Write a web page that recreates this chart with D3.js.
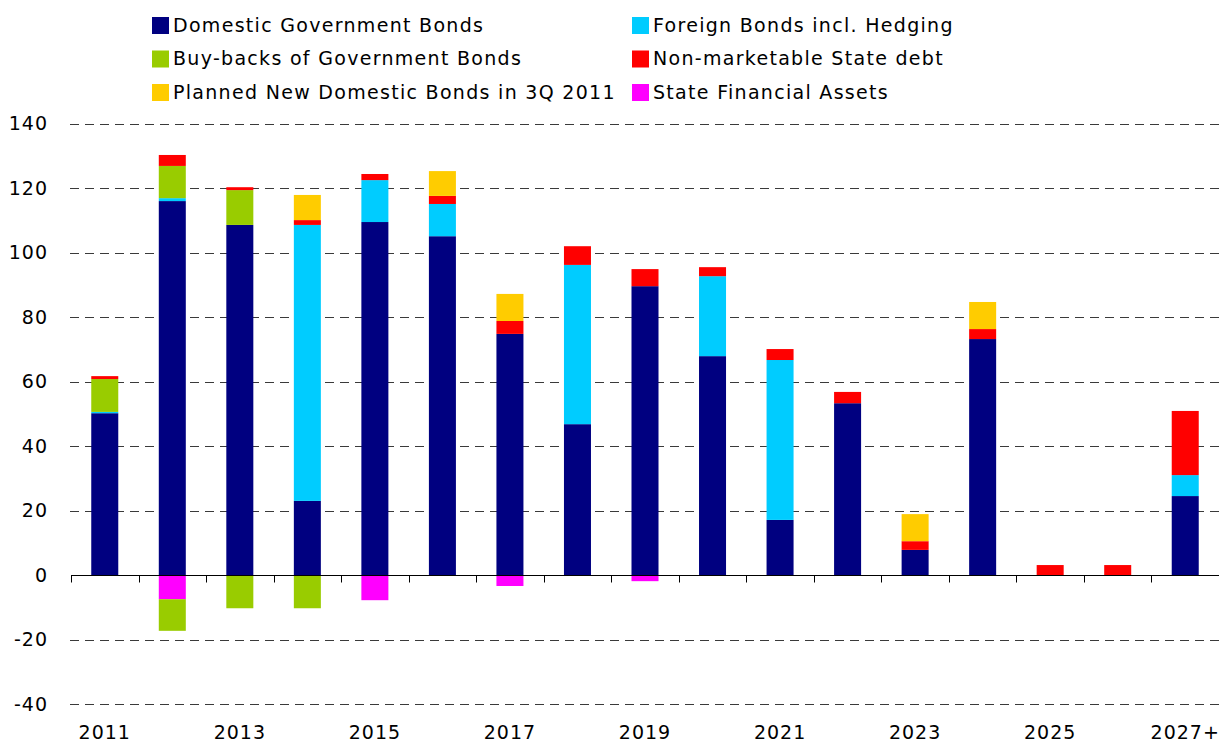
<!DOCTYPE html>
<html>
<head>
<meta charset="utf-8">
<script src="https://cdn.jsdelivr.net/npm/d3@7"></script>
<style>
  body { margin: 0; background: #fff; }
  text { font-family: "DejaVu Sans", Verdana, sans-serif; }
</style>
</head>
<body>
<div id="chart"></div>
<script>
var years = ["2011", "2012", "2013", "2014", "2015", "2016", "2017", "2018", "2019",
  "2020", "2021", "2022", "2023", "2024", "2025", "2026", "2027+"];
var domestic = [50.2, 116.0, 108.6, 23.0, 109.5, 105.1, 74.8, 46.8, 89.6, 67.9, 17.1, 53.3, 7.8, 73.2, 0, 0, 24.5];
var foreign = [0.4, 0.9, 0, 85.6, 13.0, 10.0, 0, 49.4, 0, 24.8, 49.6, 0, 0, 0, 0, 0, 6.5];
var buyBacks = [10.2, 10.0, 10.8, 0, 0, 0, 0, 0, 0, 0, 0, 0, 0, 0, 0, 0, 0];
var nonMarketable = [0.9, 3.4, 0.9, 1.5, 1.9, 2.5, 4.0, 5.8, 5.3, 2.8, 3.4, 3.5, 2.7, 3.1, 3.1, 3.1, 19.9];
var plannedNew = [0, 0, 0, 7.8, 0, 7.7, 8.4, 0, 0, 0, 0, 0, 8.4, 8.4, 0, 0, 0];
var finAssets = [0, -7.5, 0, 0, -7.8, 0, -3.4, 0, -1.9, 0, 0, 0, 0, 0, 0, 0, 0];
var buyBacksNeg = [0, -9.8, -10.3, -10.3, 0, 0, 0, 0, 0, 0, 0, 0, 0, 0, 0, 0, 0];
var yTicks = [-40, -20, 0, 20, 40, 60, 80, 100, 120, 140];

function init() {
  var w = 1219;
  var h = 745;
  var left = 71;
  var right = 1219;

  var series = [
    {key: "dom", name: "Domestic Government Bonds", values: domestic, color: "#000080"},
    {key: "for", name: "Foreign Bonds incl. Hedging", values: foreign, color: "#00ccff"},
    {key: "bb", name: "Buy-backs of Government Bonds", values: buyBacks, color: "#99cc00"},
    {key: "nm", name: "Non-marketable State debt", values: nonMarketable, color: "#ff0000"},
    {key: "pl", name: "Planned New Domestic Bonds in 3Q 2011", values: plannedNew, color: "#ffcc00"},
    {key: "fa", name: "State Financial Assets", values: finAssets, color: "#ff00ff"},
    {key: "bbn", name: null, values: buyBacksNeg, color: "#99cc00"}
  ];

  var rows = years.map(function(y, i) {
    var r = {year: y};
    series.forEach(function(s) { r[s.key] = s.values[i]; });
    return r;
  });

  var stack = d3.stack()
    .keys(series.map(function(s) { return s.key; }))
    .offset(d3.stackOffsetDiverging);
  var stacked = stack(rows);

  var xScale = d3.scaleBand()
    .domain(years)
    .range([left, right])
    .paddingInner(0.6)
    .paddingOuter(0.3);
  var xEdge = d3.scaleBand()
    .domain(years)
    .range([left, right]);

  var yScale = d3.scaleLinear()
    .domain([-40, 140])
    .range([704, 123.7]);

  var svg = d3.select("#chart")
    .append("svg")
    .attr("width", w)
    .attr("height", h);

  // grid
  svg.selectAll("line.grid")
    .data(yTicks.filter(function(d) { return d != 0; }))
    .enter()
    .append("line")
    .attr("class", "grid")
    .attr("x1", left - 1)
    .attr("x2", right)
    .attr("y1", function(d) { return Math.round(yScale(d)) + 0.5; })
    .attr("y2", function(d) { return Math.round(yScale(d)) + 0.5; })
    .attr("stroke", "#3a3a3a")
    .attr("stroke-dasharray", "9,6");

  svg.selectAll("text.ylab")
    .data(yTicks)
    .enter()
    .append("text")
    .attr("class", "ylab")
    .attr("x", 48)
    .attr("y", function(d) { return yScale(d); })
    .attr("dy", "0.35em")
    .attr("text-anchor", "end")
    .attr("font-size", 19)
    .attr("letter-spacing", 1)
    .attr("fill", "#000")
    .text(function(d) { return d; });

  // bars
  svg.selectAll("g.layer")
    .data(stacked)
    .enter()
    .append("g")
    .attr("class", "layer")
    .attr("fill", function(d, i) { return series[i].color; })
    .selectAll("rect")
    .data(function(d) { return d; })
    .enter()
    .append("rect")
    .attr("x", function(d) { return xScale(d.data.year); })
    .attr("width", xScale.bandwidth())
    .attr("y", function(d) { return yScale(Math.max(d[0], d[1])); })
    .attr("height", function(d) { return Math.abs(yScale(d[0]) - yScale(d[1])); });

  // x axis line and ticks
  var y0 = Math.round(yScale(0)) + 0.5;
  svg.append("line")
    .attr("x1", left)
    .attr("x2", right)
    .attr("y1", y0)
    .attr("y2", y0)
    .attr("stroke", "#000")
    .attr("stroke-width", 1.2);

  svg.selectAll("line.xtick")
    .data(years)
    .enter()
    .append("line")
    .attr("class", "xtick")
    .attr("x1", function(d) { return Math.round(xEdge(d)) + 0.5; })
    .attr("x2", function(d) { return Math.round(xEdge(d)) + 0.5; })
    .attr("y1", y0)
    .attr("y2", y0 + 7)
    .attr("stroke", "#000");

  var xAxis = d3.axisBottom(xScale)
    .tickValues(years.filter(function(d, i) { return i % 2 == 0; }))
    .tickSize(0)
    .tickPadding(0);
  var gx = svg.append("g")
    .attr("transform", "translate(0, 725)")
    .call(xAxis);
  gx.select(".domain").remove();
  gx.selectAll("text")
    .attr("font-size", 19)
    .attr("letter-spacing", 1)
    .attr("fill", "#000")
    .attr("font-family", "DejaVu Sans, Verdana, sans-serif");

  // legend
  var legendItems = series.filter(function(s) { return s.name; });
  var legend = svg.selectAll("g.legend")
    .data(legendItems)
    .enter()
    .append("g")
    .attr("class", "legend")
    .attr("transform", function(d, i) {
      var col = i % 2;
      var row = Math.floor(i / 2);
      return "translate(" + (col == 0 ? 152 : 632) + "," + (25 + row * 33.5) + ")";
    });
  legend.append("rect")
    .attr("x", 0)
    .attr("y", -8)
    .attr("width", 17)
    .attr("height", 17)
    .attr("fill", function(d) { return d.color; });
  legend.append("text")
    .attr("x", 21)
    .attr("y", 0)
    .attr("dy", "0.35em")
    .attr("font-size", 19)
    .attr("letter-spacing", 1.3)
    .attr("fill", "#000")
    .text(function(d) { return d.name; });
}

window.onload = init;
</script>
</body>
</html>
